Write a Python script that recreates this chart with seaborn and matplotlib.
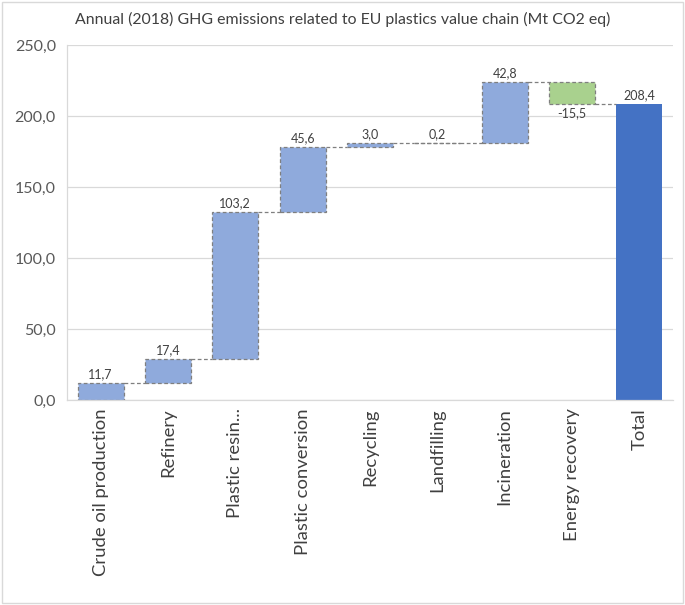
import matplotlib
matplotlib.use("Agg")
import matplotlib.pyplot as plt
import seaborn as sns
import numpy as np
import pandas as pd

categories = ["Crude oil production", "Refinery", "Plastic resin...", "Plastic conversion",
              "Recycling", "Landfilling", "Incineration", "Energy recovery", "Total"]
steps = [11.7, 17.4, 103.2, 45.6, 3.0, 0.2, 42.8, -15.5]
total = 208.4

light_blue = "#8FAADC"
green = "#A9D18E"
dark_blue = "#4472C4"

# floating bar bottoms / heights
cum = np.concatenate([[0], np.cumsum(steps)])
bottoms = list(np.minimum(cum[:-1], cum[1:])) + [0]
heights = [abs(s) for s in steps] + [total]
colors = [green if s < 0 else light_blue for s in steps] + [dark_blue]

df = pd.DataFrame({"cat": categories, "h": heights})

sns.set_style("white")
plt.rcParams["font.family"] = ["Lato", "DejaVu Sans"]

fig = plt.figure(figsize=(6.85, 6.05), dpi=100)
ax = fig.add_axes([0.0978, 0.3388, 0.8847, 0.5868])

w = 0.68
sns.barplot(data=df, x="cat", y="h", hue="cat", palette=colors, legend=False,
            width=w, saturation=1, ax=ax)

for i, p in enumerate(ax.patches):
    p.set_y(bottoms[i])
    if i < len(steps):
        p.set_edgecolor("#7F7F7F")
        p.set_linestyle((0, (3, 2)))
        p.set_linewidth(0.9)
    else:
        p.set_linewidth(0)

# connectors
for i in range(len(steps)):
    lvl = cum[i + 1]
    ax.plot([i + w / 2, i + 1 - w / 2], [lvl, lvl], color="#7F7F7F",
            linestyle=(0, (3, 2)), linewidth=0.9)

# labels
for i, s in enumerate(steps):
    txt = f"{s:.1f}".replace(".", ",")
    if s < 0:
        ax.text(i, bottoms[i] - 2, txt, ha="center", va="top", fontsize=9, color="#404040")
    else:
        ax.text(i, bottoms[i] + heights[i] + 2, txt, ha="center", va="bottom",
                fontsize=9, color="#404040")
ax.text(len(steps), total + 2, f"{total:.1f}".replace(".", ","), ha="center",
        va="bottom", fontsize=9, color="#404040")

ax.set_ylim(0, 250)
ax.set_xlim(-0.5, 8.5)
ax.set_yticks(np.arange(0, 251, 50))
ax.set_yticklabels([f"{v:.1f}".replace(".", ",") for v in np.arange(0, 251, 50)],
                   fontsize=11.5, color="#595959")
ax.yaxis.grid(True, color="#D9D9D9", linewidth=0.9)
ax.set_axisbelow(True)
ax.tick_params(axis="x", labelrotation=90, labelsize=13.3, colors="#404040", length=0, pad=6)
ax.tick_params(axis="y", length=0, pad=8)
ax.set_xlabel("")
ax.set_ylabel("")
for side in ["top", "right"]:
    ax.spines[side].set_visible(False)
for side in ["left", "bottom"]:
    ax.spines[side].set_color("#D9D9D9")
    ax.spines[side].set_linewidth(0.9)

fig.text(0.5, 0.967, "Annual (2018) GHG emissions related to EU plastics value chain (Mt CO2 eq)",
         ha="center", va="center", fontsize=11.4, color="#404040")

fig.patches.append(plt.Rectangle((0.003, 0.003), 0.994, 0.994, transform=fig.transFigure,
                                 fill=False, edgecolor="#D9D9D9", linewidth=1))

fig.savefig("out.png", dpi=100)
